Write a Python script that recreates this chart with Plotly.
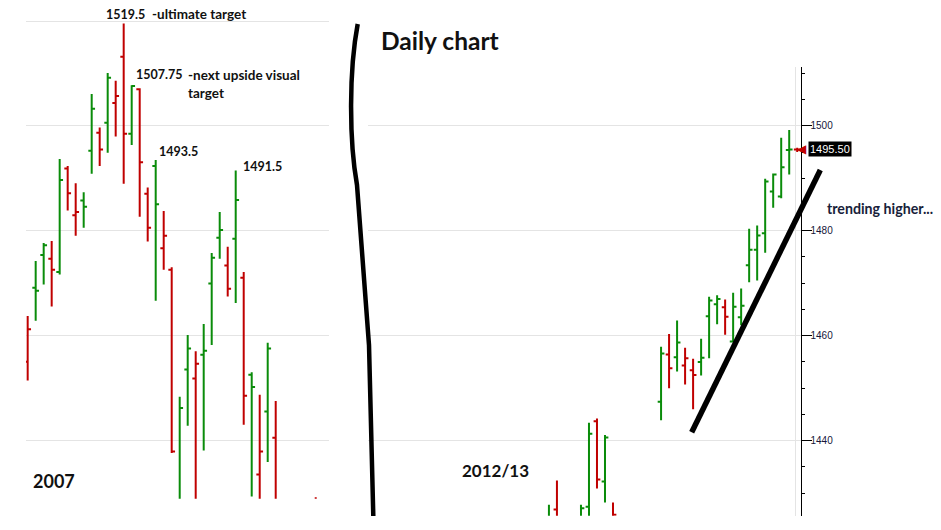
import plotly.graph_objects as go

W, H = 941, 530

# 2007 segment: bar number, open, high, low, close (bars 32-35 fall below the visible range)
bars_2007 = list(range(32)) + [36]
open_2007 = [1455.1, 1469.2, 1475.4, 1474.7, 1472.2, 1491.9, 1483.0, 1485.8, 1495.3, 1498.7,
             1500.6, 1504.4, 1513.2, 1498.5, 1507.0, 1487.1, 1492.4, 1476.7, 1472.6, 1427.0,
             1453.6, 1451.9, 1456.4, 1470.0, 1478.7, 1473.4, 1478.5, 1471.1, 1452.6, 1433.6,
             1445.6, 1440.6, 1428.0]
high_2007 = [1463.8, 1474.3, 1477.7, 1478.1, 1493.7, 1492.4, 1489.1, 1487.4, 1506.1, 1499.7,
             1510.1, 1508.6, 1519.5, 1507.75, 1507.2, 1488.3, 1493.5, 1483.8, 1473.1, 1448.4,
             1460.2, 1457.1, 1462.3, 1475.8, 1483.6, 1477.0, 1491.5, 1472.2, 1453.1, 1448.8,
             1458.7, 1447.6, 1429.3]
low_2007 = [1451.5, 1462.9, 1469.8, 1465.6, 1471.7, 1483.9, 1479.1, 1480.6, 1490.9, 1492.4,
            1494.9, 1498.0, 1489.0, 1496.4, 1482.7, 1478.0, 1466.7, 1472.6, 1437.7, 1422.0,
            1442.9, 1426.0, 1438.2, 1458.3, 1474.7, 1467.5, 1466.3, 1443.1, 1429.4, 1425.0,
            1436.0, 1420.0, 1415.0]
close_2007 = [1461.3, 1468.6, 1477.3, 1472.6, 1489.7, 1487.2, 1483.6, 1484.6, 1503.3, 1495.5,
              1509.2, 1505.7, 1498.5, 1507.6, 1493.1, 1480.6, 1485.1, 1479.1, 1438.0, 1446.3,
              1457.6, 1454.7, 1457.2, 1474.9, 1480.2, 1469.0, 1485.9, 1448.6, 1450.3, 1438.0,
              1457.6, 1424.0, 1420.0]
prev_close_2007 = 1464.0  # close before the first visible bar (estimated)

# 2012/13 daily segment (missing bar numbers sit below the visible range)
bars_2013 = [0, 1, 4, 5, 6, 7, 8] + list(range(14, 32))
open_2013 = [1418.0, 1426.9, 1420.0, 1427.4, 1443.7, 1432.2, 1424.0,
             1447.4, 1456.4, 1455.9, 1454.3, 1453.4, 1455.0, 1463.7, 1466.0, 1465.4,
             1458.9, 1463.5, 1473.4, 1476.4, 1479.5, 1487.5, 1486.5, 1495.4, 1495.5]
high_2013 = [1427.8, 1432.4, 1427.8, 1443.4, 1444.2, 1441.1, 1428.2,
             1457.9, 1460.3, 1462.9, 1457.7, 1455.6, 1459.4, 1467.4, 1467.7, 1466.9,
             1468.2, 1469.0, 1480.4, 1481.0, 1489.9, 1490.9, 1497.7, 1499.2, 1495.8]
low_2013 = [1415.0, 1418.0, 1418.0, 1424.0, 1430.9, 1428.2, 1418.0,
            1443.9, 1450.0, 1453.2, 1450.7, 1446.0, 1452.4, 1455.7, 1462.2, 1460.2,
            1458.8, 1462.0, 1470.2, 1470.5, 1475.8, 1484.4, 1486.2, 1490.7, 1495.0]
close_2013 = [1424.0, 1422.0, 1427.1, 1441.3, 1432.6, 1440.6, 1425.9,
              1456.6, 1453.8, 1458.7, 1455.7, 1452.5, 1455.8, 1466.7, 1467.0, 1463.6,
              1465.5, 1465.7, 1476.4, 1479.1, 1489.4, 1490.7, 1492.1, 1495.5, 1495.5]
prev_close_2013 = 1421.0

GREEN = "#0a8c0a"
RED = "#c00000"
GRID = "#e4e4e4"


def px(x, y):
    """Pixel position in the 941x530 picture -> paper coordinates."""
    return x / W, 1 - y / H


def split_bars(bars, c, prev_close):
    """Bars are coloured by close versus the previous close, not versus the open."""
    up, down = [], []
    last = prev_close
    for i in range(len(bars)):
        (up if c[i] > last else down).append(i)
        last = c[i]
    return up, down


def ohlc_traces(bars, o, h, l, c, prev_close, xaxis, yaxis):
    traces = []
    for idx, colour in zip(split_bars(bars, c, prev_close), (GREEN, RED)):
        traces.append(
            go.Ohlc(
                x=[bars[i] for i in idx],
                open=[o[i] for i in idx],
                high=[h[i] for i in idx],
                low=[l[i] for i in idx],
                close=[c[i] for i in idx],
                increasing_line_color=colour,
                decreasing_line_color=colour,
                line_width=2,
                tickwidth=0.42,
                xaxis=xaxis,
                yaxis=yaxis,
                hoverinfo="skip",
            )
        )
    return traces


data = ohlc_traces(bars_2007, open_2007, high_2007, low_2007, close_2007,
                   prev_close_2007, "x", "y")
data += ohlc_traces(bars_2013, open_2013, high_2013, low_2013, close_2013,
                    prev_close_2013, "x2", "y2")

fig = go.Figure(data=data)

fig.update_layout(
    width=W,
    height=H,
    margin=dict(l=0, r=0, t=0, b=0),
    paper_bgcolor="white",
    plot_bgcolor="white",
    showlegend=False,
    xaxis=dict(
        domain=[26 / W, 329 / W],
        range=[-0.21, 37.66],
        visible=False,
        rangeslider_visible=False,
    ),
    yaxis=dict(
        domain=[1 - 498.7 / H, 1.0],
        range=[1429.0, 1524.0],
        dtick=20,
        tick0=0,
        showgrid=True,
        gridcolor=GRID,
        gridwidth=1,
        showticklabels=False,
        ticks="",
        zeroline=False,
        showline=False,
    ),
    xaxis2=dict(
        domain=[368 / W, 800.5 / W],
        range=[-22.59, 31.41],
        anchor="y2",
        rangeslider_visible=False,
        showgrid=True,
        gridcolor=GRID,
        tickmode="array",
        tickvals=[30.8],
        showticklabels=False,
        ticks="",
        zeroline=False,
        showline=False,
    ),
    yaxis2=dict(
        domain=[1 - 515.7 / H, 1 - 67 / H],
        range=[1425.7, 1511.2],
        anchor="x2",
        side="right",
        dtick=20,
        tick0=0,
        showgrid=True,
        gridcolor=GRID,
        zeroline=False,
        showline=True,
        linecolor="black",
        linewidth=1,
        ticks="outside",
        ticklen=10,
        tickcolor="black",
        tickwidth=1,
        ticklabelstandoff=-3,
        tickfont=dict(family="Liberation Sans", size=10, color="#16163a"),
        minor=dict(dtick=5, ticks="outside", ticklen=3, tickcolor="black"),
    ),
)

# hand drawn bracket between the two charts and the trend line
bracket = [(357.7, 24), (349, 70), (349, 140), (357, 185), (369, 345), (373.3, 516)]
b = [px(x, y) for x, y in bracket]
fig.add_shape(
    type="path",
    xref="paper",
    yref="paper",
    path=(f"M {b[0][0]},{b[0][1]} C {b[1][0]},{b[1][1]} {b[2][0]},{b[2][1]} "
          f"{b[3][0]},{b[3][1]} L {b[4][0]},{b[4][1]} L {b[5][0]},{b[5][1]}"),
    line=dict(color="black", width=4.5),
)
x0, y0 = px(691.7, 432.3)
x1, y1 = px(820.3, 170)
fig.add_shape(type="line", xref="paper", yref="paper", x0=x0, y0=y0, x1=x1, y1=y1,
              line=dict(color="black", width=5.5))

TEXT_FONT = "Lato"
notes = [
    ("<b>1519.5</b>", 104, 14.3, 12.5),
    ("<b>-ultimate target</b>", 150, 14.3, 13.5),
    ("<b>1507.75</b>", 134, 74.7, 12.5),
    ("<b>-next upside visual<br>target</b>", 185.5, 83.5, 13.5),
    ("<b>1493.5</b>", 157, 151.7, 12.5),
    ("<b>1491.5</b>", 241, 166.7, 12.5),
    ("<b>2007</b>", 31, 480.7, 18),
    ("<b>Daily chart</b>", 379, 41, 24.5),
    ("<b>2012/13</b>", 460, 470, 17),
]
for text, x, y, size in notes:
    ax, ay = px(x, y)
    fig.add_annotation(
        xref="paper", yref="paper", x=ax, y=ay, text=text, showarrow=False,
        xanchor="left", yanchor="middle", align="left",
        font=dict(family=TEXT_FONT, size=size, color="#111111"),
    )

ax, ay = px(825, 208.3)
fig.add_annotation(
    xref="paper", yref="paper", x=ax, y=ay, text="<b>trending higher...</b>",
    showarrow=False, xanchor="left", yanchor="middle",
    font=dict(family=TEXT_FONT, size=14.2, color="#18223a"),
)

# current price box with its red pointer on the price axis
last_price = close_2013[-1]
fig.add_annotation(
    xref="paper", yref="y2", x=809 / W, y=last_price,
    text="◀", showarrow=False, xanchor="right", yanchor="middle",
    font=dict(family="DejaVu Sans", size=12, color=RED),
)
fig.add_annotation(
    xref="paper", yref="y2", x=808 / W, y=last_price,
    text=f"{last_price:.2f}", showarrow=False, xanchor="left", yanchor="middle",
    bgcolor="black", borderpad=1,
    font=dict(family="Liberation Sans", size=11, color="white"),
)

fig.write_html(
    "out.html",
    config={"displayModeBar": False},
    post_script="document.body.style.margin='0';",
)
